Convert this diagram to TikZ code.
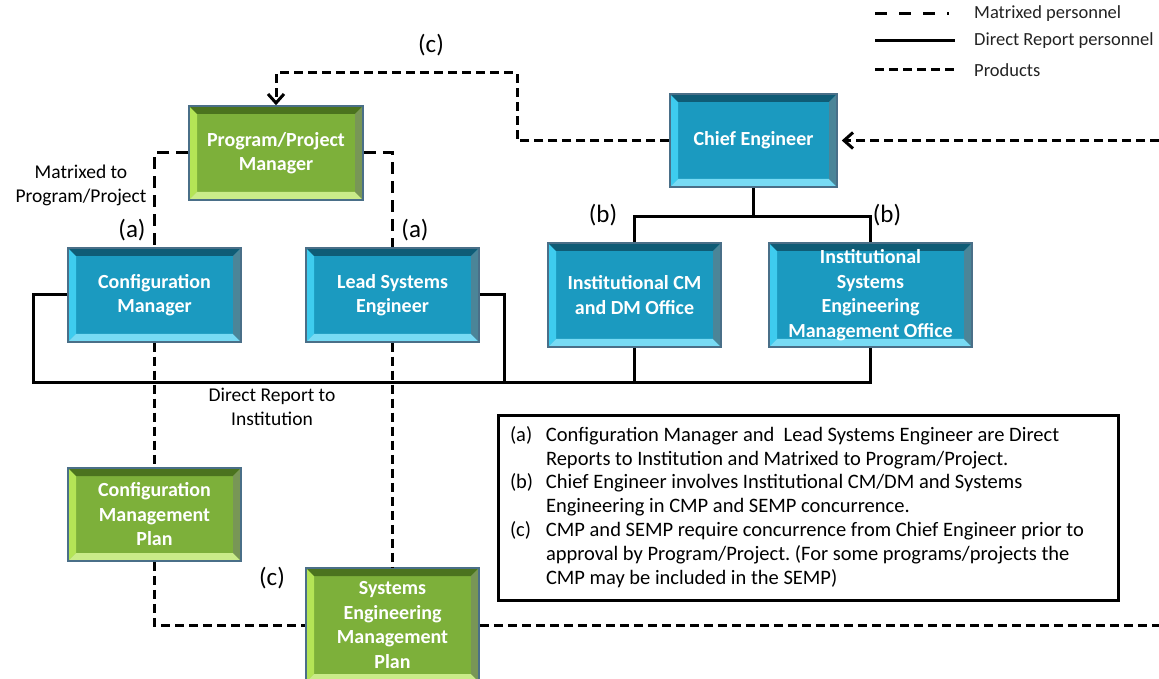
\documentclass[tikz,border=0pt]{standalone}
\usepackage{fontspec}
\setmainfont{Carlito}
\usetikzlibrary{arrows.meta}
\frenchspacing

\definecolor{boxblue}{HTML}{1B9AC0}
\definecolor{bluelite}{HTML}{3ECCEF}
\definecolor{bluedark}{HTML}{0F5C76}
\definecolor{boxgreen}{HTML}{7DB03A}
\definecolor{greenlite}{HTML}{B4E456}
\definecolor{greendark}{HTML}{4B731E}
\definecolor{boxedge}{HTML}{4A6F88}
\definecolor{legtext}{HTML}{222222}

\tikzset{
  bevel/.style 2 args={path picture={
    \fill[#1] (path picture bounding box.north west) -- (path picture bounding box.south west)
      -- ([shift={(8,8)}]path picture bounding box.south west) -- ([shift={(8,-8)}]path picture bounding box.north west) -- cycle;
    \fill[#1!70!white] (path picture bounding box.south west) -- (path picture bounding box.south east)
      -- ([shift={(-8,8)}]path picture bounding box.south east) -- ([shift={(8,8)}]path picture bounding box.south west) -- cycle;
    \fill[#2] (path picture bounding box.north west) -- (path picture bounding box.north east)
      -- ([shift={(-8,-8)}]path picture bounding box.north east) -- ([shift={(8,-8)}]path picture bounding box.north west) -- cycle;
    \fill[#2!75!white] (path picture bounding box.north east) -- (path picture bounding box.south east)
      -- ([shift={(-8,8)}]path picture bounding box.south east) -- ([shift={(-8,-8)}]path picture bounding box.north east) -- cycle;
  }},
  orgbox/.style={draw=boxedge, line width=1.5pt, text=white, align=center, inner sep=0pt,
    font=\fontsize{20}{24.5}\selectfont\bfseries},
  bluebox/.style={orgbox, fill=boxblue, bevel={bluelite}{bluedark}},
  greenbox/.style={orgbox, fill=boxgreen, bevel={greenlite}{greendark}},
  direct/.style={line width=3pt},
  matrixed/.style={line width=3pt, dash pattern=on 12pt off 7pt},
  products/.style={line width=3pt, dash pattern=on 9pt off 5pt},
  legmatrix/.style={line width=3pt, dash pattern=on 12pt off 12pt},
  tag/.style={font=\fontsize{25}{28}\selectfont},
  sidelbl/.style={font=\fontsize{19.5}{24}\selectfont, align=center},
  legtxt/.style={font=\fontsize{18.5}{22}\selectfont, text=legtext, anchor=west, inner sep=0pt},
  arr/.style={-{Straight Barb[length=9pt,width=16pt]}}
}

\begin{document}
\begin{tikzpicture}[x=1pt, y=1pt]
\useasboundingbox (0,0) rectangle (1159,678);

% boxes
\node[greenbox, minimum width=174, minimum height=94] (ppm) at (276,525) {Program/Project\\Manager};
\node[bluebox, minimum width=167, minimum height=93] (chief) at (753.5,537.5) {Chief Engineer};

\node[bluebox, minimum width=173, minimum height=94] (cfgmgr) at (154.5,383) {Configuration\\Manager};
\node[bluebox, minimum width=173, minimum height=94] (leadse) at (392.5,383) {Lead Systems\\Engineer};
\node[bluebox, minimum width=173, minimum height=104] (instcm) at (634.5,383) {Institutional CM\\and DM Office};
\node[bluebox, minimum width=203, minimum height=104] (instse) at (870.5,383) {Institutional\\Systems\\Engineering\\Management Office};

\node[greenbox, minimum width=173, minimum height=93] (cmp) at (154.5,163.5) {Configuration\\Management\\Plan};
\node[greenbox, minimum width=173, minimum height=114] (semp) at (392.5,53) {Systems\\Engineering\\Management\\Plan};

% free ends
\coordinate (ctop) at (517,605);
\coordinate (rin) at (1159,537.5);
\coordinate (bar) at (753.5,461);
\coordinate (busl) at (33,295);
\coordinate (busm) at (504,295);
\coordinate (rout) at (1159,53);

% products
\draw[products, arr] (chief.west) -| (ctop) -| (ppm.north);
\draw[products, arr, shorten >=4pt] (rin) -- (chief.east);
\draw[products] (cfgmgr.south) -- (cmp.north);
\draw[products] (leadse.south) -- (semp.north);
\draw[products] (cmp.south) |- (semp.west);
\draw[products] (semp.east) -- (rout);

% matrixed
\draw[matrixed] (ppm.west) -| (cfgmgr.north);
\draw[matrixed] (ppm.east) -| (leadse.north);

% direct report
\draw[direct] (chief.south) -- (bar);
\draw[direct] (instcm.north) |- (bar) -| (instse.north);
\draw[direct] (cfgmgr.west) -| (busl) -| (instse.south);
\draw[direct] (leadse.east) -| (busm);
\draw[direct] (instcm.south) -- (instcm.south |- busl);

% labels
\node[tag] (tagc1) at (431,633) {(c)};
\node[tag] (taga1) at (132,448) {(a)};
\node[tag] (taga2) at (415,448) {(a)};
\node[tag] (tagb1) at (603,463) {(b)};
\node[tag] (tagb2) at (887,463) {(b)};
\node[tag] (tagc2) at (272,100) {(c)};
\node[sidelbl] (matlbl) at (81,493) {Matrixed to\\Program/Project};
\node[sidelbl] (dirlbl) at (272,271) {Direct Report to\\Institution};

% legend
\node[legtxt] (legm) at (974,664) {Matrixed personnel};
\node[legtxt] (legd) at (974,637) {Direct Report personnel};
\node[legtxt] (legp) at (974,608) {Products};
\coordinate (lm1) at (875,664);
\coordinate (lm2) at (949,664);
\coordinate (ld1) at (875,637);
\coordinate (ld2) at (955,637);
\coordinate (lp1) at (875,608);
\coordinate (lp2) at (955,608);
\draw[legmatrix] (lm1) -- (lm2);
\draw[direct] (ld1) -- (ld2);
\draw[products] (lp1) -- (lp2);

% notes
\node[draw, line width=3pt, minimum width=620, minimum height=184, inner sep=0pt,
  font=\fontsize{20.5}{23.8}\selectfont] (notes) at (808,170) {%
  \begin{tabular}{@{}p{36pt}@{}p{560pt}@{}}
  (a) & Configuration Manager and~ Lead Systems Engineer are Direct\\
      & Reports to Institution and Matrixed to Program/Project.\\
  (b) & Chief Engineer involves Institutional CM/DM and Systems\\
      & Engineering in CMP and SEMP concurrence.\\
  (c) & CMP and SEMP require concurrence from Chief Engineer prior to\\
      & approval by Program/Project. (For some programs/projects the\\
      & CMP may be included in the SEMP)
  \end{tabular}};
\end{tikzpicture}
\end{document}
